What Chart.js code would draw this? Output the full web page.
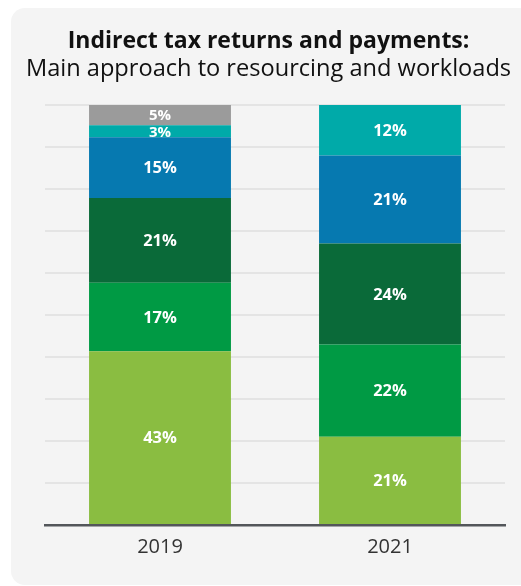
<!DOCTYPE html>
<html>
<head>
<meta charset="utf-8">
<script src="https://cdn.jsdelivr.net/npm/chart.js@4.4.1/dist/chart.umd.min.js"></script>
<style>
  html, body { margin: 0; padding: 0; background: #ffffff; }
  #wrap { position: relative; width: 521px; height: 586px; overflow: hidden; }
  #panel { position: absolute; left: 11px; top: 8px; width: 540px; height: 577px; background: #f4f4f4; border-radius: 14px; }
  #c { position: absolute; left: 0; top: 0; }
</style>
</head>
<body>
<div id="wrap">
  <div id="panel"></div>
  <canvas id="c" width="521" height="586"></canvas>
</div>
<script>
// ---- data ----
const categories = ["2019", "2021"];
const seriesNames = ["Approach 1", "Approach 2", "Approach 3", "Approach 4", "Approach 5", "Approach 6"];
const series1 = [43, 21];   // light green (bottom)
const series2 = [17, 22];   // green
const series3 = [21, 24];   // dark green
const series4 = [15, 21];   // blue
const series5 = [3, 12];    // teal
const series6 = [5, 0];     // grey (top)
const titleLine1 = "Indirect tax returns and payments:";
const titleLine2 = "Main approach to resourcing and workloads";

const raw = [series1, series2, series3, series4, series5, series6];
const colors = ["#8abd41", "#009a44", "#0a6a39", "#0679b0", "#00aaa9", "#9b9b9b"];

// each bar is drawn as a 100% stack of its labelled values
const totals = categories.map((_, i) => raw.reduce((s, arr) => s + arr[i], 0));

const datasets = raw.map((arr, k) => ({
  label: seriesNames[k],
  data: arr.map((v, i) => v / totals[i] * 100),
  rawValues: arr,
  backgroundColor: colors[k],
  borderWidth: 0,
  barPercentage: 0.617,
  categoryPercentage: 1.0
}));

const labelPlugin = {
  id: 'segLabels',
  afterDatasetsDraw(chart) {
    const ctx = chart.ctx;
    ctx.save();
    ctx.fillStyle = '#ffffff';
    ctx.textAlign = 'center';
    ctx.textBaseline = 'middle';
    chart.data.datasets.forEach((ds, di) => {
      const meta = chart.getDatasetMeta(di);
      meta.data.forEach((el, i) => {
        const v = ds.rawValues[i];
        if (!v) return;
        const small = Math.abs(el.base - el.y) < 25;
        ctx.font = 'bold ' + (small ? 15 : 16.5) + 'px "Open Sans"';
        const y = (el.y + el.base) / 2;
        ctx.fillText(v + '%', el.x, y + 1);
      });
    });
    ctx.restore();
  }
};

new Chart(document.getElementById('c'), {
  type: 'bar',
  data: { labels: categories, datasets },
  options: {
    responsive: false,
    animation: false,
    devicePixelRatio: 1,
    layout: { padding: { left: 16, right: 0, top: 0, bottom: 0 } },
    plugins: {
      legend: { display: false },
      tooltip: { enabled: false },
      title: {
        display: true,
        text: titleLine1,
        color: '#111111',
        font: { family: '"Open Sans"', size: 23, weight: 'bold', lineHeight: 1.2 },
        padding: { top: 28, bottom: 0 }
      },
      subtitle: {
        display: true,
        text: titleLine2,
        color: '#111111',
        font: { family: '"Open Sans"', size: 23.6, weight: 'normal', lineHeight: 1.12 },
        padding: { top: 0, bottom: 23 }
      }
    },
    scales: {
      x: {
        stacked: true,
        grid: { display: false, drawTicks: false },
        border: { display: true, color: '#53565a', width: 2.5 },
        ticks: { color: '#333333', font: { family: '"Open Sans"', size: 20 }, padding: 10 },
        afterFit(scale) { scale.height = 61; }
      },
      y: {
        stacked: true,
        min: 0,
        max: 100,
        ticks: { display: false, stepSize: 10 },
        grid: { color: '#e4e4e4', lineWidth: 2, drawTicks: false },
        border: { display: false },
        afterFit(scale) { scale.width = 29; }
      },
      yRight: {
        position: 'right',
        display: true,
        ticks: { display: false },
        grid: { display: false, drawTicks: false },
        border: { display: false },
        afterFit(scale) { scale.width = 16; }
      }
    }
  },
  plugins: [labelPlugin]
});
</script>
</body>
</html>
